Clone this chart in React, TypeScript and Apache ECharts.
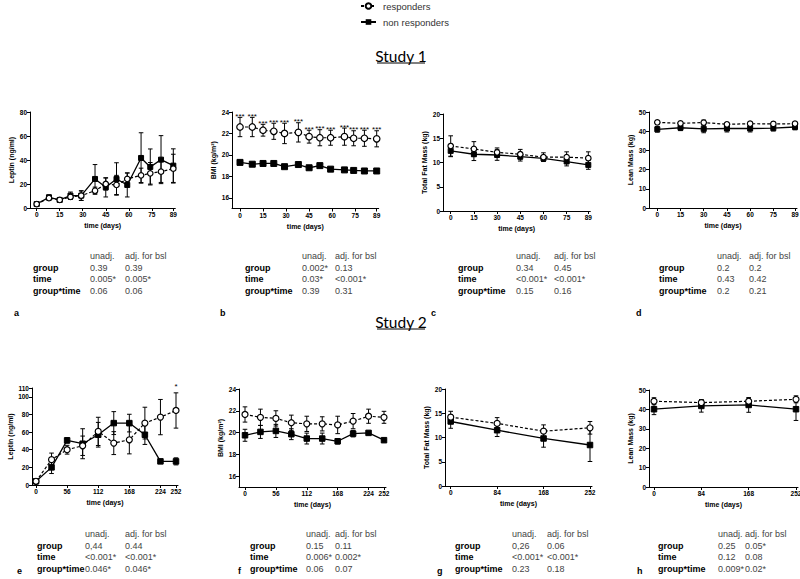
import React, { useEffect, useRef } from 'react';
import * as echarts from 'echarts';

// ---------- time points ----------
const s1WeeklyDays = [0, 8, 15, 22, 29, 38, 45, 52, 59, 68, 74, 81, 89];
const s1DxaDays = [0, 15, 30, 45, 60, 75, 89];
const s2MonthlyDays = [0, 28, 56, 84, 112, 140, 168, 196, 224, 252];
const s2DxaDays = [0, 84, 168, 252];

// ---------- tick labels ----------
const s1XTicks = [0, 15, 30, 45, 60, 75, 89];
const s2MonthlyXTicks = [0, 56, 112, 168, 224, 252];
const s2DxaXTicks = [0, 84, 168, 252];
const leptin1YTicks = [0, 20, 40, 60, 80];
const bmiYTicks = [16, 18, 20, 22, 24];
const fatYTicks = [0, 5, 10, 15, 20];
const leanYTicks = [0, 10, 20, 30, 40, 50];
const leptin2YTicks = [0, 20, 40, 60, 80, 100, 110];

// ---------- panel a: Study 1 leptin ----------
const aResp = [3.3, 8.3, 6.7, 9.2, 10.3, 14.4, 20.0, 19.2, 24.2, 27.2, 28.9, 30.3, 32.8];
const aRespErr = [1, 2, 1, 2, 4, 3, 5, 8, 5, 6, 9, 9, 12];
const aNon = [3.3, 8.9, 6.7, 10.3, 10.3, 24.2, 17.2, 24.2, 19.2, 41.7, 34.2, 40.3, 35.3];
const aNonErr = [1, 2, 1, 3, 4, 12, 8, 13.5, 10, 21, 15, 20, 14];

// ---------- panel b: Study 1 BMI ----------
const bResp = [22.6, 22.6, 22.3, 22.2, 22.0, 22.1, 21.7, 21.6, 21.6, 21.7, 21.55, 21.55, 21.5];
const bRespErr = [0.9, 0.9, 0.55, 0.75, 0.95, 0.9, 0.6, 0.75, 0.7, 0.8, 0.7, 0.75, 0.75];
const bNon = [19.3, 19.13, 19.2, 19.2, 18.9, 19.1, 18.8, 19.0, 18.67, 18.6, 18.55, 18.5, 18.5];
const bNonErr = [0.1, 0.1, 0.1, 0.15, 0.1, 0.1, 0.1, 0.1, 0.1, 0.1, 0.1, 0.12, 0.15];
const bStars = ['***', '***', '***', '***', '***', '***', '***', '***', '***', '***', '***', '***', '***'];

// ---------- panel c: Study 1 fat mass ----------
const cResp = [13.4, 12.8, 12.1, 11.7, 11.1, 11.1, 10.9];
const cRespErr = [2.1, 1.5, 0.9, 1.0, 0.9, 1.1, 1.3];
const cNon = [12.4, 11.7, 11.55, 11.2, 10.86, 10.2, 9.5];
const cNonErr = [1.2, 1.3, 1.1, 0.9, 0.6, 0.9, 0.9];

// ---------- panel d: Study 1 lean mass ----------
const dResp = [44.6, 44.1, 44.5, 43.6, 43.9, 43.8, 43.9];
const dRespErr = [1, 1, 1.3, 1, 1, 1, 1];
const dNon = [41.0, 41.8, 41.2, 41.4, 41.4, 41.6, 42.2];
const dNonErr = [1.5, 1.5, 2, 1.8, 1.8, 1.5, 1.5];

// ---------- panel e: Study 2 leptin ----------
const eResp = [4.2, 28.7, 40, 44.5, 60.8, 47.5, 51.3, 70.2, 77, 84.5];
const eRespErr = [1.5, 7.5, 5, 11, 16, 13, 16, 18, 20, 20];
const eNon = [4.2, 20, 50.6, 46.8, 57, 70.2, 70.2, 57, 26.8, 26.8];
const eNonErr = [1.5, 7, 3, 17, 14, 13, 10, 11, 1, 4];
const eStars = ['', '', '', '', '', '', '', '', '', '*'];

// ---------- panel f: Study 2 BMI ----------
const fResp = [21.66, 21.4, 21.3, 20.9, 20.8, 20.8, 20.7, 21.05, 21.5, 21.4];
const fRespErr = [0.7, 0.75, 0.7, 0.7, 0.7, 0.65, 0.8, 0.7, 0.65, 0.55];
const fNon = [19.75, 20.06, 20.15, 19.85, 19.45, 19.45, 19.2, 19.9, 19.97, 19.3];
const fNonErr = [0.55, 0.6, 0.6, 0.5, 0.5, 0.5, 0.25, 0.3, 0.1, 0.05];

// ---------- panel g: Study 2 fat mass ----------
const gResp = [14.2, 12.9, 11.3, 12.0];
const gRespErr = [1.2, 1.2, 1.3, 1.3];
const gNon = [13.3, 11.5, 9.8, 8.45];
const gNonErr = [1.4, 1.3, 1.8, 3.4];

// ---------- panel h: Study 2 lean mass ----------
const hResp = [44.2, 43.5, 44.2, 45.2];
const hRespErr = [1.8, 1.5, 1.5, 1.8];
const hNon = [40.1, 41.8, 42.3, 40.1];
const hNonErr = [2.8, 3.2, 3.8, 5.8];

// ---------- statistics tables ----------
const tableHeader = ['unadj.', 'adj. for bsl'];
const tableRowNames = ['group', 'time', 'group*time'];
const aTable = [['0.39', '0.39'], ['0.005*', '0.005*'], ['0.06', '0.06']];
const bTable = [['0.002*', '0.13'], ['0.03*', '<0.001*'], ['0.39', '0.31']];
const cTable = [['0.34', '0.45'], ['<0.001*', '<0.001*'], ['0.15', '0.16']];
const dTable = [['0.2', '0.2'], ['0.43', '0.42'], ['0.2', '0.21']];
const eTable = [['0,44', '0.44'], ['<0.001*', '<0.001*'], ['0.046*', '0.046*']];
const fTable = [['0.15', '0.11'], ['0.006*', '0.002*'], ['0.06', '0.07']];
const gTable = [['0,26', '0.06'], ['<0.001*', '<0.001*'], ['0.23', '0.18']];
const hTable = [['0.25', '0.05*'], ['0.12', '0.08'], ['0.009*', '0.02*']];

const studyTitles = ['Study 1', 'Study 2'];
const seriesNames = ['responders', 'non responders'];

// ---------- layout (pixels) ----------
const ROW1 = { hdrY: 256, rowY: [268, 279, 291], letterY: 313 };
const ROW2 = { hdrY: 534, rowY: [546, 557, 569], letterY: 571 };

const panels = [
  { letter: 'a', yName: 'Leptin (ng/ml)', days: s1WeeklyDays, xTicks: s1XTicks, yMin: 0, yMax: 80, yTicks: leptin1YTicks,
    resp: aResp, respErr: aRespErr, non: aNon, nonErr: aNonErr, stars: null as string[] | null, table: aTable,
    L: { axis: 30, x0: 36.7, x1: 173.3, top: 112, bot: 208, tx: [33, 90, 125], row: ROW1, lx: 14, sym: 5.5, starOff: 0 } },
  { letter: 'b', yName: 'BMI (kg/m²)', days: s1WeeklyDays, xTicks: s1XTicks, yMin: 15, yMax: 24, yTicks: bmiYTicks,
    resp: bResp, respErr: bRespErr, non: bNon, nonErr: bNonErr, stars: bStars, table: bTable,
    L: { axis: 232, x0: 240, x1: 376.7, top: 112, bot: 208.5, tx: [245, 302, 335], row: ROW1, lx: 220, sym: 6.5, starOff: 0 } },
  { letter: 'c', yName: 'Total Fat Mass (kg)', days: s1DxaDays, xTicks: s1XTicks, yMin: 0, yMax: 20, yTicks: fatYTicks,
    resp: cResp, respErr: cRespErr, non: cNon, nonErr: cNonErr, stars: null, table: cTable,
    L: { axis: 443, x0: 450.7, x1: 588.3, top: 114, bot: 211, tx: [458, 516, 554], row: ROW1, lx: 431, sym: 5.5, starOff: 0 } },
  { letter: 'd', yName: 'Lean Mass (kg)', days: s1DxaDays, xTicks: s1XTicks, yMin: 0, yMax: 50, yTicks: leanYTicks,
    resp: dResp, respErr: dRespErr, non: dNon, nonErr: dNonErr, stars: null, table: dTable,
    L: { axis: 649, x0: 657.3, x1: 795, top: 112, bot: 208, tx: [659, 717, 749], row: ROW1, lx: 636, sym: 5.5, starOff: 0 } },
  { letter: 'e', yName: 'Leptin (ng/ml)', days: s2MonthlyDays, xTicks: s2MonthlyXTicks, yMin: 0, yMax: 110, yTicks: leptin2YTicks,
    resp: eResp, respErr: eRespErr, non: eNon, nonErr: eNonErr, stars: eStars, table: eTable,
    L: { axis: 32, x0: 36, x1: 176, top: 388, bot: 485, tx: [37, 85, 125], row: ROW2, lx: 17, sym: 6, starOff: 5 } },
  { letter: 'f', yName: 'BMI (kg/m²)', days: s2MonthlyDays, xTicks: s2MonthlyXTicks, yMin: 15, yMax: 24, yTicks: bmiYTicks,
    resp: fResp, respErr: fRespErr, non: fNon, nonErr: fNonErr, stars: null, table: fTable,
    L: { axis: 239, x0: 245, x1: 384, top: 389, bot: 487, tx: [250, 306, 335], row: ROW2, lx: 238, sym: 6, starOff: 0 } },
  { letter: 'g', yName: 'Total Fat Mass (kg)', days: s2DxaDays, xTicks: s2DxaXTicks, yMin: 0, yMax: 20, yTicks: fatYTicks,
    resp: gResp, respErr: gRespErr, non: gNon, nonErr: gNonErr, stars: null, table: gTable,
    L: { axis: 445, x0: 450.7, x1: 590, top: 389, bot: 486, tx: [455, 512, 547], row: ROW2, lx: 437, sym: 6, starOff: 0 } },
  { letter: 'h', yName: 'Lean Mass (kg)', days: s2DxaDays, xTicks: s2DxaXTicks, yMin: 0, yMax: 50, yTicks: leanYTicks,
    resp: hResp, respErr: hRespErr, non: hNon, nonErr: hNonErr, stars: null, table: hTable,
    L: { axis: 649, x0: 654, x1: 796, top: 390, bot: 487, tx: [658, 718, 745], row: ROW2, lx: 637, sym: 6, starOff: 0 } },
];

const FONT = 'Liberation Sans, Arial, sans-serif';

function makeErrRender(stars: string[] | null, starOff: number) {
  return (params: any, api: any) => {
    const x = api.value(0);
    const m = api.value(1);
    const e = api.value(2);
    const top = api.coord([x, m + e]);
    const bot = api.coord([x, m - e]);
    const cap = 2.3;
    const st = { stroke: '#000', lineWidth: 1 };
    const children: any[] = [
      { type: 'line', shape: { x1: top[0], y1: top[1], x2: bot[0], y2: bot[1] }, style: st },
      { type: 'line', shape: { x1: top[0] - cap, y1: top[1], x2: top[0] + cap, y2: top[1] }, style: st },
      { type: 'line', shape: { x1: bot[0] - cap, y1: bot[1], x2: bot[0] + cap, y2: bot[1] }, style: st },
    ];
    const s = stars ? stars[params.dataIndex] : '';
    if (s) {
      children.push({
        type: 'text',
        style: {
          text: s, x: top[0], y: top[1] + 3 - starOff, align: 'center', verticalAlign: 'bottom',
          fontSize: 8, fontFamily: FONT, fill: '#000',
        },
      });
    }
    return { type: 'group', children };
  };
}

function buildOption() {
  const grid: any[] = [];
  const xAxis: any[] = [];
  const yAxis: any[] = [];
  const series: any[] = [];
  const graphic: any[] = [];

  panels.forEach((p, i) => {
    const L = p.L;
    const lastDay = p.xTicks[p.xTicks.length - 1];
    const ppd = (L.x1 - L.x0) / lastDay;
    const xMin = -(L.x0 - L.axis) / ppd;
    const xMax = lastDay + 2 / ppd;
    grid.push({
      left: L.axis, top: L.top, width: L.x1 + 2 - L.axis, height: L.bot - L.top,
      containLabel: false, outerBoundsMode: 'none',
    });
    xAxis.push({
      type: 'value', gridIndex: i, min: xMin, max: xMax,
      name: 'time (days)', nameLocation: 'middle', nameGap: 14,
      nameTextStyle: { fontSize: 7, fontWeight: 'bold', fontFamily: FONT, color: '#000' },
      axisLine: { show: true, onZero: false, lineStyle: { color: '#000', width: 1 } },
      axisTick: { show: true, length: 3, customValues: p.xTicks, lineStyle: { color: '#000', width: 1 } },
      axisLabel: { customValues: p.xTicks, fontSize: 6.5, fontWeight: 'bold', fontFamily: FONT, color: '#000', margin: 3 },
      splitLine: { show: false },
    });
    yAxis.push({
      type: 'value', gridIndex: i, min: p.yMin, max: p.yMax,
      name: p.yName, nameLocation: 'middle', nameGap: 15, nameRotate: 90,
      nameTextStyle: { fontSize: 7, fontWeight: 'bold', fontFamily: FONT, color: '#000' },
      axisLine: { show: true, onZero: false, lineStyle: { color: '#000', width: 1 } },
      axisTick: { show: true, length: 3, customValues: p.yTicks, lineStyle: { color: '#000', width: 1 } },
      axisLabel: { customValues: p.yTicks, fontSize: 6.5, fontWeight: 'bold', fontFamily: FONT, color: '#000', margin: 3 },
      splitLine: { show: false },
    });

    const nonErrData = p.days.map((d, k) => [d, p.non[k], p.nonErr[k]]);
    const respErrData = p.days.map((d, k) => [d, p.resp[k], p.respErr[k]]);
    series.push({
      type: 'custom', xAxisIndex: i, yAxisIndex: i, z: 2, clip: false, silent: true,
      renderItem: makeErrRender(null, 0), data: nonErrData,
    });
    series.push({
      type: 'custom', xAxisIndex: i, yAxisIndex: i, z: 2, clip: false, silent: true,
      renderItem: makeErrRender(p.stars, L.starOff), data: respErrData,
    });
    series.push({
      name: seriesNames[1], type: 'line', xAxisIndex: i, yAxisIndex: i, z: 3,
      data: p.days.map((d, k) => [d, p.non[k]]),
      symbol: 'rect', symbolSize: L.sym - 0.5, showAllSymbol: true,
      lineStyle: { color: '#000', width: 1.3, type: 'solid' },
      itemStyle: { color: '#000', borderColor: '#000' },
    });
    series.push({
      name: seriesNames[0], type: 'line', xAxisIndex: i, yAxisIndex: i, z: 4,
      data: p.days.map((d, k) => [d, p.resp[k]]),
      symbol: 'circle', symbolSize: L.sym, showAllSymbol: true,
      lineStyle: { color: '#000', width: 1.2, type: [3, 2] },
      itemStyle: { color: '#fff', borderColor: '#000', borderWidth: 1.2 },
    });

    // statistics table
    const R = L.row;
    tableHeader.forEach((h, c) => {
      graphic.push({ type: 'text', left: L.tx[c + 1], top: R.hdrY - 5, style: { text: h, fontSize: 9, fontFamily: FONT, fill: '#444' } });
    });
    tableRowNames.forEach((rn, r) => {
      graphic.push({ type: 'text', left: L.tx[0], top: R.rowY[r] - 5, style: { text: rn, fontSize: 9, fontWeight: 'bold', fontFamily: FONT, fill: '#000' } });
      p.table[r].forEach((v, c) => {
        graphic.push({ type: 'text', left: L.tx[c + 1], top: R.rowY[r] - 5, style: { text: v, fontSize: 9, fontFamily: FONT, fill: '#444' } });
      });
    });
    graphic.push({ type: 'text', left: L.lx, top: R.letterY - 5, style: { text: p.letter, fontSize: 9, fontWeight: 'bold', fontFamily: FONT, fill: '#000' } });
  });

  // Study titles with underline
  const titleY = [56, 322];
  studyTitles.forEach((t, k) => {
    graphic.push({
      type: 'text', x: 401, y: titleY[k],
      style: { text: t, fontSize: 15.5, fontFamily: 'Lato, sans-serif', fill: '#000', align: 'center', verticalAlign: 'middle' },
    });
    graphic.push({
      type: 'line', shape: { x1: 377, y1: titleY[k] + 7, x2: 425, y2: titleY[k] + 7 },
      style: { stroke: '#000', lineWidth: 1 },
    });
  });

  return {
    animation: false,
    backgroundColor: '#fff',
    legend: {
      data: seriesNames, orient: 'vertical', left: 360, top: 1, itemWidth: 15, itemHeight: 7, itemGap: 6,
      selectedMode: false, padding: 0,
      textStyle: { fontSize: 9.5, fontFamily: FONT, color: '#333', padding: [0, 0, 0, 2] },
    },
    grid, xAxis, yAxis, series, graphic,
  };
}

export default function App() {
  const ref = useRef<HTMLDivElement>(null);
  useEffect(() => {
    document.body.style.margin = '0';
    const chart = echarts.init(ref.current as HTMLDivElement, null, { renderer: 'svg' });
    chart.setOption(buildOption() as any);
    return () => chart.dispose();
  }, []);
  return <div ref={ref} style={{ width: 800, height: 579, background: '#fff' }} />;
}
